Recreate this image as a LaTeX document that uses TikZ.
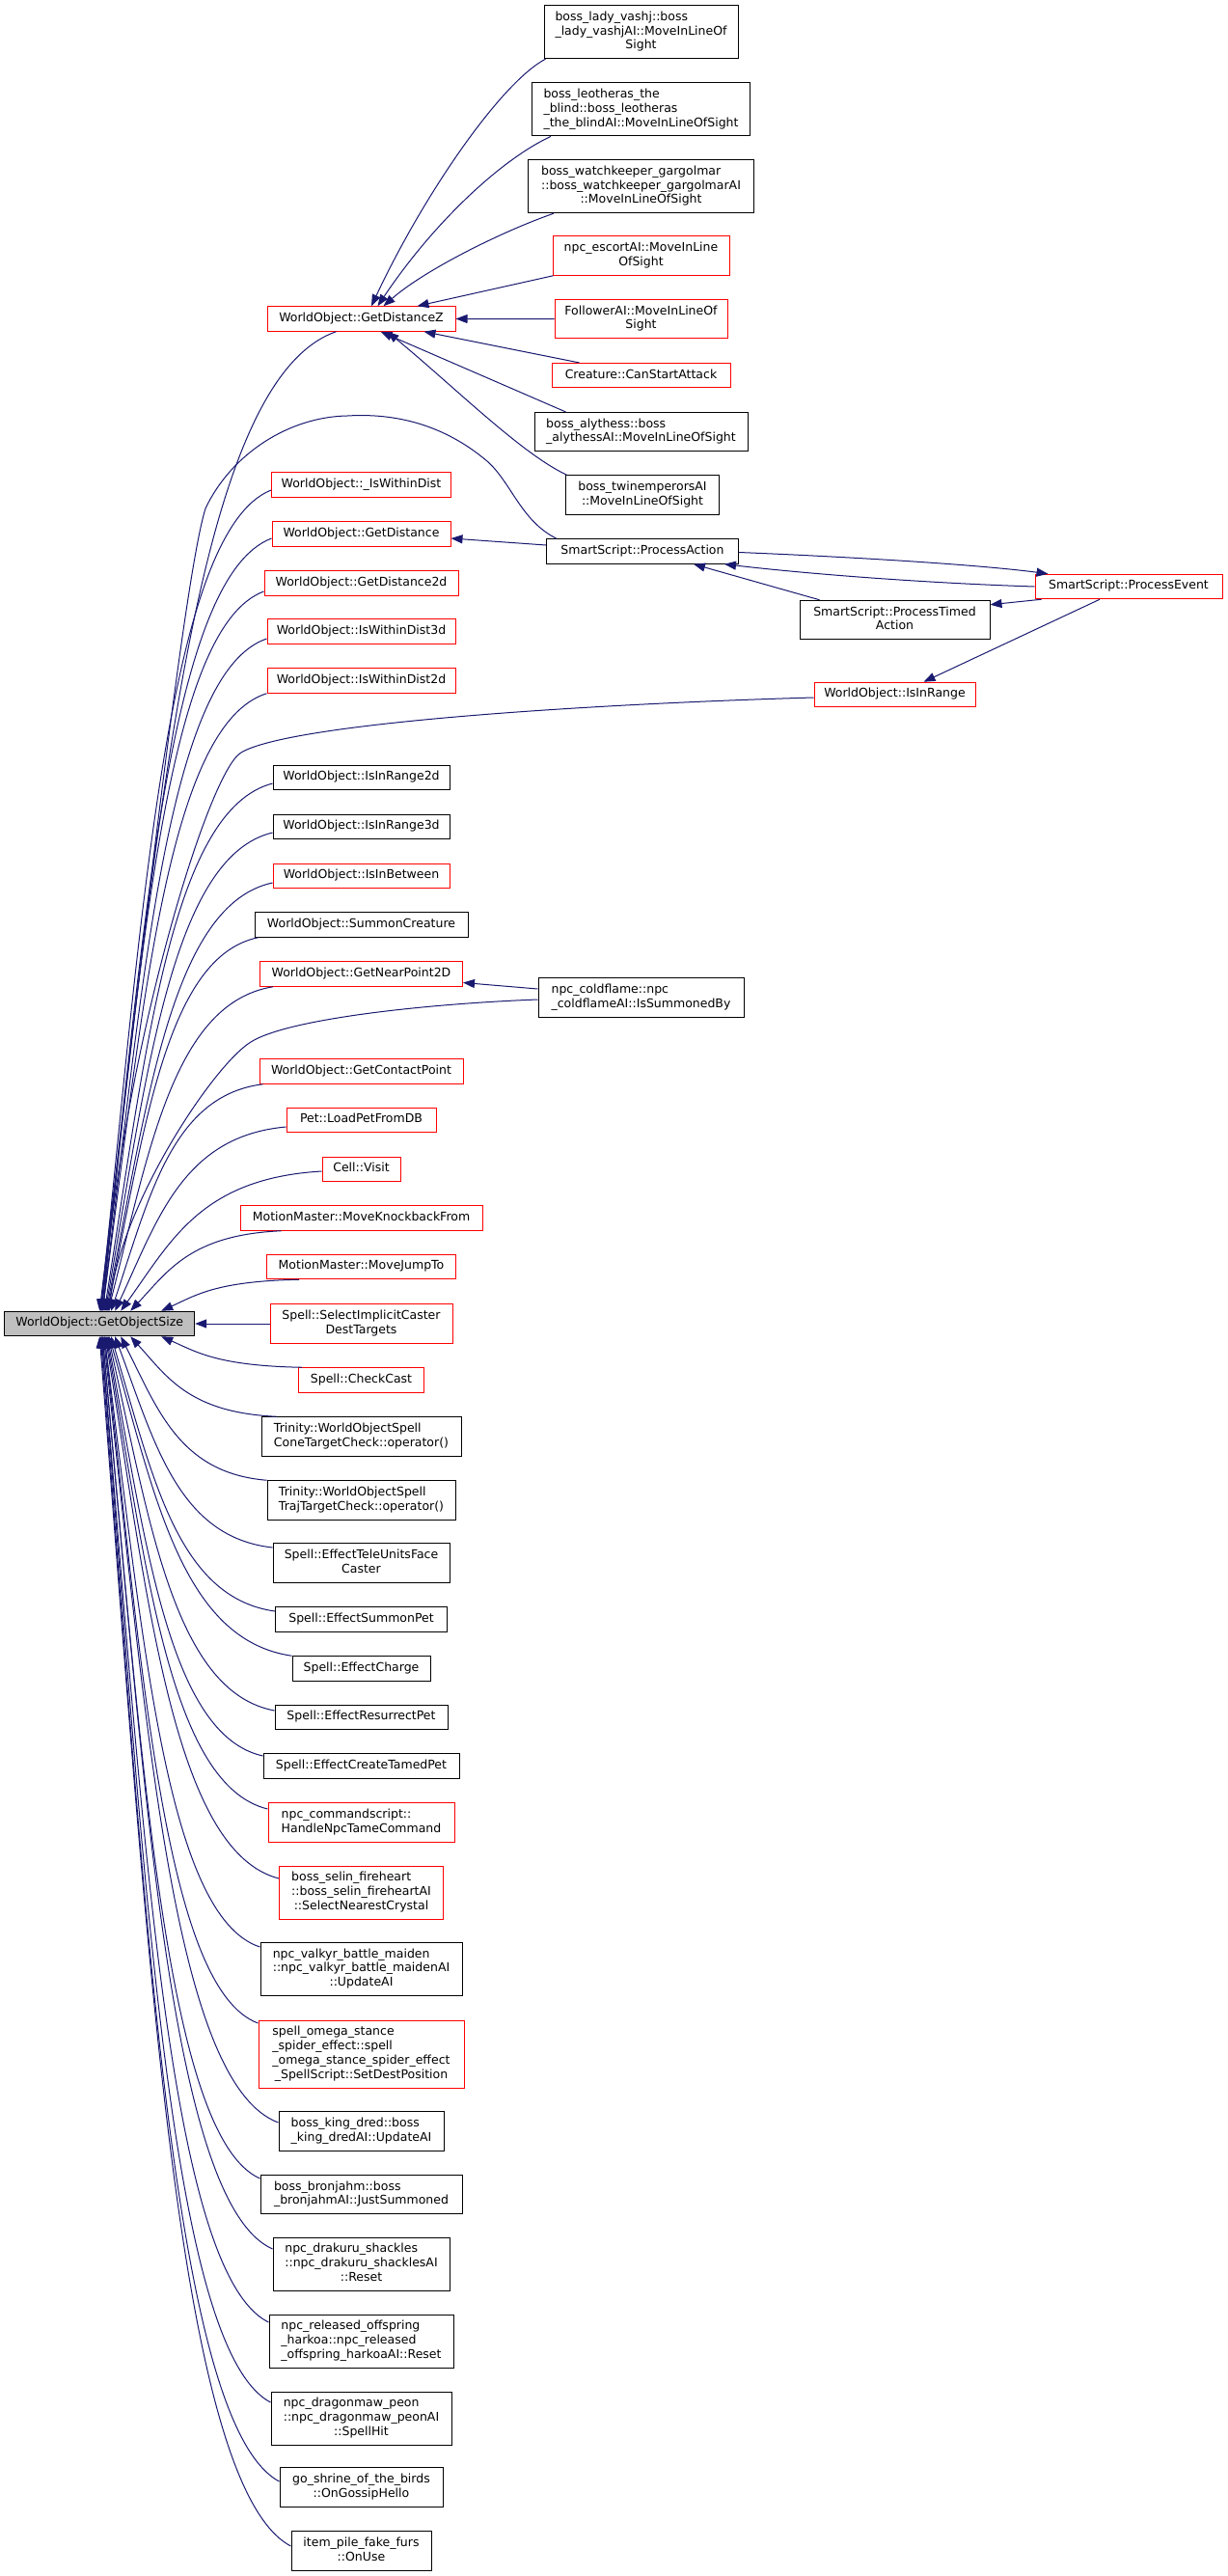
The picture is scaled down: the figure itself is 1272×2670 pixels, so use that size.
\documentclass[tikz,border=0pt]{standalone}
\usepackage{fontspec}
\setmainfont{DejaVu Sans}
\usetikzlibrary{arrows.meta,calc}
\definecolor{mblue}{HTML}{191970}
\definecolor{gfill}{HTML}{BFBFBF}
\newcommand\lab[1]{\begin{tabular}{@{}l@{}}#1\end{tabular}}
\newcommand\cl[1]{\multicolumn{1}{@{}c@{}}{#1}}
\newcommand\fan[2]{\draw[cedge] let \p1=(#1), \p2=(#2) in (\p1) .. controls ({\x1+0.6*(\x2-\x1)},{\y1+0.05*(\y2-\y1)}) and ({\x2+0.25*(\x1-\x2)},{\y2+0.5*(\y1-\y2)}) .. (\p2);}
\tikzset{
  nbox/.style={line width=1pt, inner sep=0pt, fill=white, font=\fontsize{12.5}{14.7}\selectfont, minimum height=25.5pt},
  rd/.style={nbox, draw=red},
  bk/.style={nbox, draw=black},
  l2/.style={minimum height=40.5pt},
  l3/.style={minimum height=55pt},
  l4/.style={minimum height=70pt},
  cedge/.style={draw=mblue, line width=1pt, -{Triangle[length=12pt,width=9pt]}},
}
\begin{document}
\begin{tikzpicture}[x=1pt,y=-1pt]
\useasboundingbox (0,0) rectangle (1272,2670);
% ---- root
\node[bk,fill=gfill,minimum width=197] (gos) at (103.2,1372) {\lab{WorldObject::GetObjectSize}};
% ---- column 3 (top)
\node[bk,l3,minimum width=201] (vashj) at (664.5,33.2) {\lab{boss\_lady\_vashj::boss\\\_lady\_vashjAI::MoveInLineOf\\\cl{Sight}}};
\node[bk,l3,minimum width=226] (leot) at (664.5,113.4) {\lab{boss\_leotheras\_the\\\_blind::boss\_leotheras\\\cl{\_the\_blindAI::MoveInLineOfSight}}};
\node[bk,l3,minimum width=234] (watch) at (664.5,193.2) {\lab{boss\_watchkeeper\_gargolmar\\::boss\_watchkeeper\_gargolmarAI\\\cl{::MoveInLineOfSight}}};
\node[rd,l2,minimum width=183] (escort) at (664.5,265) {\lab{npc\_escortAI::MoveInLine\\\cl{OfSight}}};
\node[rd,l2,minimum width=179] (follower) at (664.5,330.7) {\lab{FollowerAI::MoveInLineOf\\\cl{Sight}}};
\node[rd,minimum width=185] (canstart) at (664.5,389.2) {\lab{Creature::CanStartAttack}};
\node[bk,l2,minimum width=221] (alythess) at (664.5,447.7) {\lab{boss\_alythess::boss\\\cl{\_alythessAI::MoveInLineOfSight}}};
\node[bk,l2,minimum width=159] (twin) at (666,513) {\lab{boss\_twinemperorsAI\\\cl{::MoveInLineOfSight}}};
\node[bk,minimum width=199] (paction) at (666,571.5) {\lab{SmartScript::ProcessAction}};
\node[rd,minimum width=194] (pevent) at (1170,608) {\lab{SmartScript::ProcessEvent}};
\node[bk,l2,minimum width=197] (ptimed) at (927.5,642.5) {\lab{SmartScript::ProcessTimed\\\cl{Action}}};
\node[rd,minimum width=167] (isinrange) at (927.5,720) {\lab{WorldObject::IsInRange}};
\node[bk,l2,minimum width=213] (coldflame) at (664.5,1034) {\lab{npc\_coldflame::npc\\\cl{\_coldflameAI::IsSummonedBy}}};
% ---- column 2
\node[rd,minimum width=195] (getdistz) at (374.5,330.5) {\lab{WorldObject::GetDistanceZ}};
\node[rd,minimum width=186] (iwd) at (374.5,502.5) {\lab{WorldObject::\_IsWithinDist}};
\node[rd,minimum width=185] (getdistance) at (374.5,553.5) {\lab{WorldObject::GetDistance}};
\node[rd,minimum width=201] (getdistance2d) at (374.5,604.5) {\lab{WorldObject::GetDistance2d}};
\node[rd,minimum width=195] (iwd3d) at (374.5,654.5) {\lab{WorldObject::IsWithinDist3d}};
\node[rd,minimum width=195] (iwd2d) at (374.5,705.5) {\lab{WorldObject::IsWithinDist2d}};
\node[bk,minimum width=183] (isinrange2d) at (374.5,806) {\lab{WorldObject::IsInRange2d}};
\node[bk,minimum width=183] (isinrange3d) at (374.5,857) {\lab{WorldObject::IsInRange3d}};
\node[rd,minimum width=183] (isinbetween) at (374.5,908) {\lab{WorldObject::IsInBetween}};
\node[bk,minimum width=221] (summoncreature) at (374.5,958.5) {\lab{WorldObject::SummonCreature}};
\node[rd,minimum width=210] (getnearpoint2d) at (374.5,1009.5) {\lab{WorldObject::GetNearPoint2D}};
\node[rd,minimum width=211] (getcontactpoint) at (374.5,1110.5) {\lab{WorldObject::GetContactPoint}};
\node[rd,minimum width=155] (loadpet) at (374.5,1161) {\lab{Pet::LoadPetFromDB}};
\node[rd,minimum width=81] (cellvisit) at (374.5,1212) {\lab{Cell::Visit}};
\node[rd,minimum width=251] (knockback) at (374.5,1262.5) {\lab{MotionMaster::MoveKnockbackFrom}};
\node[rd,minimum width=196] (jumpto) at (374.5,1313) {\lab{MotionMaster::MoveJumpTo}};
\node[rd,l2,minimum width=189] (selectimplicit) at (374.5,1372) {\lab{Spell::SelectImplicitCaster\\\cl{DestTargets}}};
\node[rd,minimum width=130] (checkcast) at (374.5,1430.5) {\lab{Spell::CheckCast}};
\node[bk,l2,minimum width=207] (cone) at (374.5,1489) {\lab{Trinity::WorldObjectSpell\\\cl{ConeTargetCheck::operator()}}};
\node[bk,l2,minimum width=195] (traj) at (374.5,1555) {\lab{Trinity::WorldObjectSpell\\\cl{TrajTargetCheck::operator()}}};
\node[bk,l2,minimum width=183] (teleunits) at (374.5,1620) {\lab{Spell::EffectTeleUnitsFace\\\cl{Caster}}};
\node[bk,minimum width=178] (summonpet) at (374.5,1678.5) {\lab{Spell::EffectSummonPet}};
\node[bk,minimum width=143] (charge) at (374.5,1729.5) {\lab{Spell::EffectCharge}};
\node[bk,minimum width=179] (resurrect) at (374.5,1780) {\lab{Spell::EffectResurrectPet}};
\node[bk,minimum width=203] (createtamed) at (374.5,1830.5) {\lab{Spell::EffectCreateTamedPet}};
\node[rd,l2,minimum width=193] (commandscript) at (374.5,1889) {\lab{npc\_commandscript::\\\cl{HandleNpcTameCommand}}};
\node[rd,l3,minimum width=170] (selin) at (374.5,1961.5) {\lab{boss\_selin\_fireheart\\::boss\_selin\_fireheartAI\\\cl{::SelectNearestCrystal}}};
\node[bk,l3,minimum width=209] (valkyr) at (374.5,2041) {\lab{npc\_valkyr\_battle\_maiden\\::npc\_valkyr\_battle\_maidenAI\\\cl{::UpdateAI}}};
\node[rd,l4,minimum width=213] (omega) at (374.5,2129) {\lab{spell\_omega\_stance\\\_spider\_effect::spell\\\_omega\_stance\_spider\_effect\\\cl{\_SpellScript::SetDestPosition}}};
\node[bk,l2,minimum width=171] (kingdred) at (374.5,2209) {\lab{boss\_king\_dred::boss\\\cl{\_king\_dredAI::UpdateAI}}};
\node[bk,l2,minimum width=209] (bronjahm) at (374.5,2274.5) {\lab{boss\_bronjahm::boss\\\cl{\_bronjahmAI::JustSummoned}}};
\node[bk,l3,minimum width=183] (drakuru) at (374.5,2346.5) {\lab{npc\_drakuru\_shackles\\::npc\_drakuru\_shacklesAI\\\cl{::Reset}}};
\node[bk,l3,minimum width=191] (released) at (374.5,2426.5) {\lab{npc\_released\_offspring\\\_harkoa::npc\_released\\\cl{\_offspring\_harkoaAI::Reset}}};
\node[bk,l3,minimum width=187] (dragonmaw) at (374.5,2506.5) {\lab{npc\_dragonmaw\_peon\\::npc\_dragonmaw\_peonAI\\\cl{::SpellHit}}};
\node[bk,l2,minimum width=169] (shrine) at (374.5,2578) {\lab{go\_shrine\_of\_the\_birds\\\cl{::OnGossipHello}}};
\node[bk,l2,minimum width=145] (itempile) at (374.5,2644) {\lab{item\_pile\_fake\_furs\\\cl{::OnUse}}};
% ---- edges into GetDistanceZ
\draw[cedge] ($(vashj.south west)+(2,0)$) .. controls (520,85) and (440,200) .. ($(getdistz.north)+(10.5,0)$);
\draw[cedge] ($(leot.south west)+(20,0)$) .. controls (520,165) and (450,230) .. ($(getdistz.north)+(17,0)$);
\draw[cedge] ($(watch.south west)+(27,0)$) .. controls (520,240) and (440,280) .. ($(getdistz.north)+(23,0)$);
\draw[cedge] ($(escort.south west)+(1,0)$) -- ($(getdistz.north)+(58,0)$);
\draw[cedge] (follower.west) -- (getdistz.east);
\draw[cedge] ($(canstart.north west)+(29,0)$) -- ($(getdistz.south)+(65,0)$);
\draw[cedge] ($(alythess.north west)+(33,0)$) -- ($(getdistz.south)+(20,0)$);
\draw[cedge] ($(twin.north west)+(1.5,0)$) .. controls (540,470) and (470,400) .. ($(getdistz.south)+(27,0)$);
% ---- SmartScript edges
\draw[cedge] ($(paction.west)+(0,-6.5)$) -- ($(getdistance.east)+(0,4.5)$);
\draw[cedge] ($(paction.east)+(0,1)$) .. controls (900,578) and (1020,586) .. ($(pevent.north west)+(14,0)$);
\draw[cedge] (pevent.west) .. controls (950,604) and (830,594) .. ($(paction.south east)+(-15,0)$);
\draw[cedge] ($(ptimed.north west)+(21,0)$) -- ($(paction.south)+(53,0)$);
\draw[cedge] ($(pevent.south west)+(7,0)$) -- ($(ptimed.north east)+(0,5)$);
\draw[cedge] ($(pevent.south)+(-30,0)$) -- ($(isinrange.north)+(30,0)$);
\draw[cedge] ($(coldflame.west)+(0,-9)$) -- ($(getnearpoint2d.east)+(0,9)$);
% ---- edges into GetObjectSize (top)
\fan{$(getdistz.south)+(-26,0)$}{$(gos.north)+(0,0)$}
\draw[cedge] ($(paction.north west)+(11,0)$) .. controls (540,540) and (530,500) .. (505,478) .. controls (460,440) and (410,428) .. (360,431) .. controls (300,432) and (240,470) .. (213,527) .. controls (190,600) and (140,1050) .. ($(gos.north)+(1,0)$);
\fan{$(iwd.west)+(0,5.5)$}{$(gos.north)+(1,0)$}
\fan{$(getdistance.west)+(0,4.5)$}{$(gos.north)+(2,0)$}
\fan{$(getdistance2d.west)+(0,8.5)$}{$(gos.north)+(2,0)$}
\fan{$(iwd3d.west)+(0,7.5)$}{$(gos.north)+(3,0)$}
\fan{iwd2d.south west}{$(gos.north)+(3,0)$}
\draw[cedge] ($(isinrange.west)+(0,3)$) .. controls (600,730) and (300,750) .. (250,780) .. controls (215,800) and (125,1100) .. ($(gos.north)+(4,0)$);
\fan{$(isinrange2d.west)+(0,6)$}{$(gos.north)+(5,0)$}
\fan{$(isinrange3d.west)+(0,6)$}{$(gos.north)+(6,0)$}
\fan{$(isinbetween.west)+(0,7)$}{$(gos.north)+(7,0)$}
\fan{$(summoncreature.south west)+(4,0)$}{$(gos.north)+(8,0)$}
\fan{$(getnearpoint2d.south west)+(14,0)$}{$(gos.north)+(9,0)$}
\draw[cedge] ($(coldflame.west)+(0,2)$) .. controls (450,1040) and (300,1055) .. (260,1080) .. controls (220,1105) and (125,1250) .. ($(gos.north)+(10,0)$);
\fan{$(getcontactpoint.south west)+(4,0)$}{$(gos.north)+(12,0)$}
\fan{$(loadpet.west)+(0,7)$}{$(gos.north)+(16,0)$}
\fan{$(cellvisit.west)+(0,2)$}{$(gos.north)+(22,0)$}
\fan{$(knockback.south west)+(43,0)$}{$(gos.north)+(32,0)$}
\fan{$(jumpto.south west)+(34,0)$}{$(gos.north)+(64,0)$}
% ---- horizontal
\draw[cedge] (selectimplicit.west) -- (gos.east);
% ---- edges into GetObjectSize (bottom)
\fan{$(checkcast.north west)+(4,0)$}{$(gos.south)+(64,0)$}
\fan{$(cone.north west)+(16,0)$}{$(gos.south)+(32,0)$}
\fan{traj.north west}{$(gos.south)+(22,0)$}
\fan{$(teleunits.west)+(0,-16)$}{$(gos.south)+(16,0)$}
\fan{$(summonpet.west)+(0,-8.5)$}{$(gos.south)+(12,0)$}
\fan{charge.north west}{$(gos.south)+(10,0)$}
\fan{$(resurrect.west)+(0,-7)$}{$(gos.south)+(9,0)$}
\fan{$(createtamed.west)+(0,-10.5)$}{$(gos.south)+(8,0)$}
\fan{$(commandscript.west)+(0,-14)$}{$(gos.south)+(7,0)$}
\fan{$(selin.west)+(0,-14.5)$}{$(gos.south)+(6,0)$}
\fan{$(valkyr.west)+(0,-23)$}{$(gos.south)+(5,0)$}
\fan{$(omega.west)+(0,-32)$}{$(gos.south)+(5,0)$}
\fan{$(kingdred.west)+(0,-9)$}{$(gos.south)+(4,0)$}
\fan{$(bronjahm.west)+(0,-16.5)$}{$(gos.south)+(3,0)$}
\fan{$(drakuru.west)+(0,-15.5)$}{$(gos.south)+(3,0)$}
\fan{$(released.west)+(0,-19.5)$}{$(gos.south)+(2,0)$}
\fan{$(dragonmaw.west)+(0,-16.5)$}{$(gos.south)+(2,0)$}
\fan{$(shrine.west)+(0,-6)$}{$(gos.south)+(1,0)$}
\fan{$(itempile.west)+(0,-5)$}{$(gos.south)+(0,0)$}
\end{tikzpicture}
\end{document}
